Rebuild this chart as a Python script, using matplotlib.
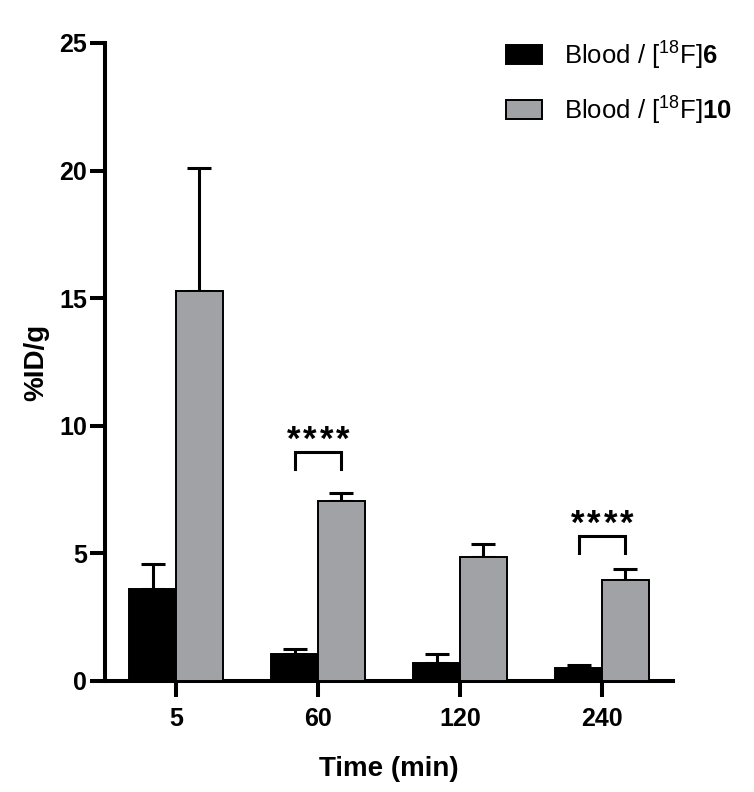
import matplotlib
matplotlib.use("Agg")
import matplotlib.pyplot as plt
import numpy as np

# ---- data ----
times = ['5', '60', '120', '240']
tracer6_mean = [3.6, 1.05, 0.7, 0.5]
tracer6_err = [1.0, 0.2, 0.35, 0.12]
tracer10_mean = [15.3, 7.05, 4.85, 3.95]
tracer10_err = [4.8, 0.3, 0.5, 0.45]
# significance brackets: (group index, bracket height, star label)
sig_marks = [(1, 8.97, '****'), (3, 5.68, '****')]

plt.rcParams['font.family'] = ['Liberation Sans', 'DejaVu Sans']
plt.rcParams['mathtext.fontset'] = 'custom'
plt.rcParams['mathtext.rm'] = 'Liberation Sans'
plt.rcParams['mathtext.bf'] = 'Liberation Sans:bold'

fig = plt.figure(figsize=(7.54, 7.92), dpi=100)
ax = fig.add_axes([105/754, 1 - 681/792, (673 - 105)/754, (681 - 43)/792])

x = np.arange(len(times))
w = 0.33
lw_axis = 2.9

ax.bar(x - w/2, tracer6_mean, w, color='black', edgecolor='black', linewidth=1.4,
       label=r'Blood / [$^{18}$F]$\mathbf{6}$', zorder=3)
ax.bar(x + w/2, tracer10_mean, w, color='#a1a2a6', edgecolor='black', linewidth=1.4,
       label=r'Blood / [$^{18}$F]$\mathbf{10}$', zorder=3)

# upper-only error bars
ax.errorbar(x - w/2, tracer6_mean, yerr=[np.zeros(len(x)), tracer6_err], fmt='none',
            ecolor='black', elinewidth=2.2, capsize=8.5, capthick=2.2, zorder=2)
ax.errorbar(x + w/2, tracer10_mean, yerr=[np.zeros(len(x)), tracer10_err], fmt='none',
            ecolor='black', elinewidth=2.2, capsize=8.5, capthick=2.2, zorder=2)

# brackets + spaced asterisks
star_pitch = 11.9  # points between star centres
for gi, h, lab in sig_marks:
    x0, x1 = gi - w/2, gi + w/2
    ax.plot([x0, x0, x1, x1], [h - 0.65, h, h, h - 0.65], color='black', lw=2.2,
            solid_joinstyle='miter', clip_on=False)
    n = len(lab)
    for k, ch in enumerate(lab):
        ax.annotate(ch, (gi, h + 0.08), xytext=((k - (n - 1) / 2) * star_pitch, 0),
                    textcoords='offset points', ha='center', va='baseline',
                    fontsize=25, fontweight='bold')

ax.set_xlim(-0.5, 3.5)
ax.set_ylim(0, 25)
ax.set_yticks([0, 5, 10, 15, 20, 25])
ax.set_xticks(x)
ax.set_xticklabels(times)

for s in ['top', 'right']:
    ax.spines[s].set_visible(False)
for s in ['left', 'bottom']:
    ax.spines[s].set_linewidth(lw_axis)

ax.tick_params(axis='y', length=11, width=lw_axis, labelsize=18, pad=2)
ax.tick_params(axis='x', length=11.5, width=lw_axis, labelsize=18, pad=7)
for t in ax.get_xticklabels() + ax.get_yticklabels():
    t.set_fontweight('bold')

ax.set_ylabel('%ID/g', fontsize=20, fontweight='bold', labelpad=7)
ax.set_xlabel('Time (min)', fontsize=20, fontweight='bold', labelpad=18)

ax.legend(loc='upper left', bbox_to_anchor=(506/754, 1 - 38/792),
          bbox_transform=fig.transFigure, frameon=False, fontsize=18.5,
          handlelength=1.42, handleheight=0.78, handletextpad=0.85,
          labelspacing=0.85, borderpad=0, borderaxespad=0)

fig.savefig('out.png', dpi=100)
